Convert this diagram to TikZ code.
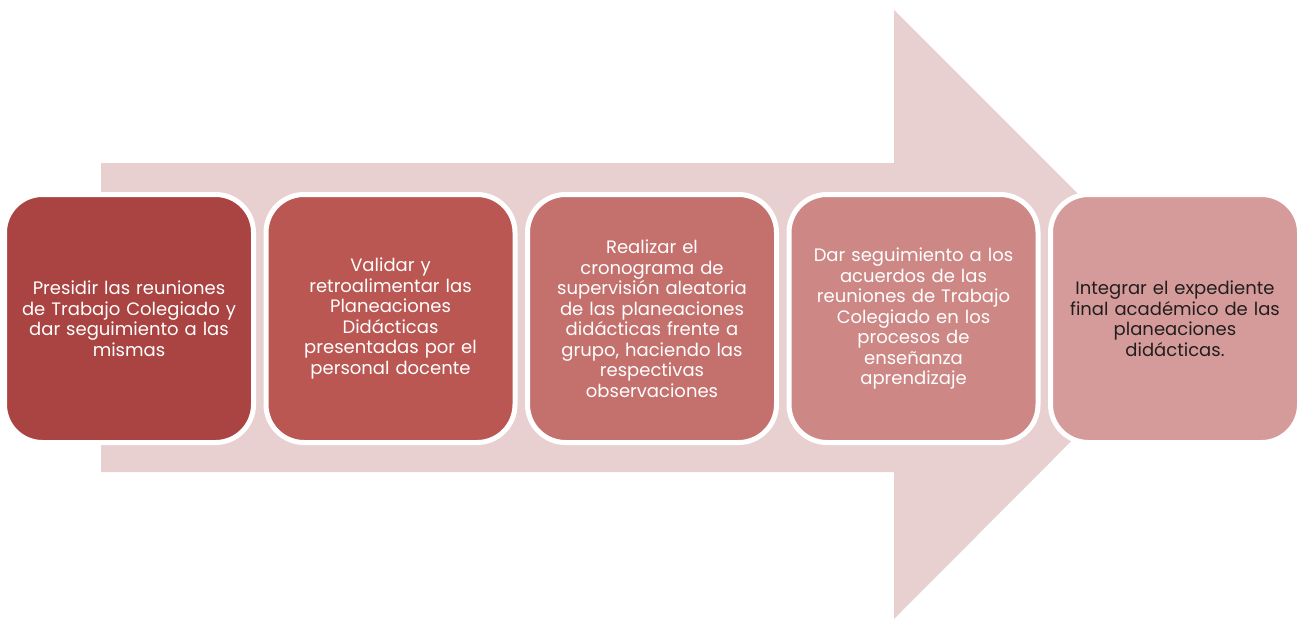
\documentclass[tikz,border=0pt]{standalone}
\usepackage{fontspec}
\setmainfont{Poppins}
\usetikzlibrary{positioning}

\definecolor{arrowpink}{RGB}{232,208,208}
\definecolor{stepA}{RGB}{169,68,66}
\definecolor{stepB}{RGB}{187,87,83}
\definecolor{stepC}{RGB}{196,113,110}
\definecolor{stepD}{RGB}{205,136,134}
\definecolor{stepE}{RGB}{213,155,154}
\definecolor{darktext}{RGB}{34,30,30}

\tikzset{
  stepbox/.style={draw=white, line width=5pt, rounded corners=38pt,
    minimum width=249pt, minimum height=248pt, text width=232pt,
    align=center, text=white, inner sep=0pt,
    font=\fontsize{18}{20.5}\selectfont},
}

\begin{document}
\begin{tikzpicture}[x=1pt,y=-1pt]
  \useasboundingbox (0,0) rectangle (1298,619);
  \begin{scope}
    % big arrow behind the steps
    \fill[arrowpink] (101,163) -- (894,163) -- (894,10) --
          (1198,314) -- (894,619) -- (894,472) -- (101,472) -- cycle;
  \end{scope}
  \node[stepbox, fill=stepA] (presidir) at (129,318.5)
    {Presidir las reuniones\\de Trabajo Colegiado y\\dar seguimiento a las\\mismas};
  \node[stepbox, fill=stepB, right=7.5pt of presidir] (validar)
    {Validar y\\retroalimentar las\\Planeaciones\\Didácticas\\presentadas por el\\personal docente};
  \node[stepbox, fill=stepC, right=7.5pt of validar] (cronograma)
    {Realizar el\\cronograma de\\supervisión aleatoria\\de las planeaciones\\didácticas frente a\\grupo, haciendo las\\respectivas\\observaciones};
  \node[stepbox, fill=stepD, right=7.5pt of cronograma] (acuerdos)
    {Dar seguimiento a los\\acuerdos de las\\reuniones de Trabajo\\Colegiado en los\\procesos de\\enseñanza\\aprendizaje};
  \node[stepbox, fill=stepE, text=darktext, right=7.5pt of acuerdos] (expediente)
    {Integrar el expediente\\final académico de las\\planeaciones\\didácticas.};
\end{tikzpicture}
\end{document}
